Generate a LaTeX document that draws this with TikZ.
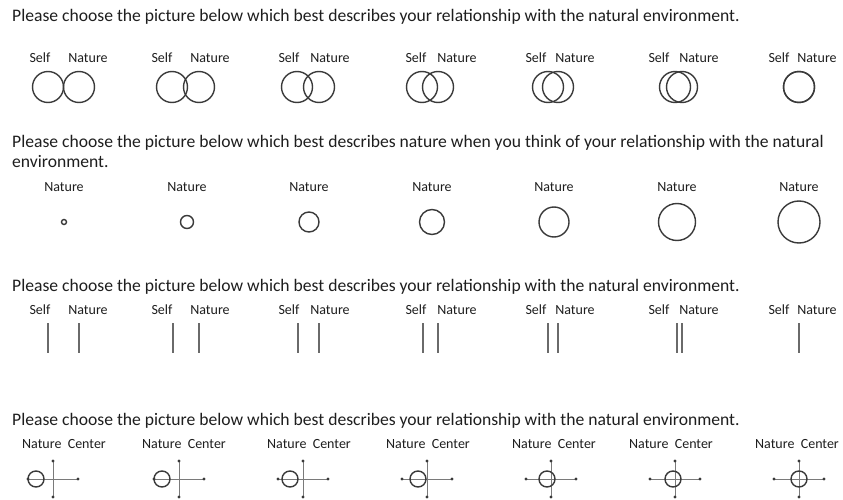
\documentclass[tikz,border=0pt]{standalone}
\usepackage{fontspec}
\setmainfont{Carlito}
\definecolor{ink}{HTML}{1E1E1E}
\definecolor{ringc}{HTML}{3A3A3A}
\definecolor{barc}{HTML}{6A6A6A}
\definecolor{crossc}{HTML}{7A7A7A}
\begin{document}
\begin{tikzpicture}[x=1pt,y=-1pt,
  title/.style={anchor=west, inner sep=0pt, font=\fontsize{17.6}{20}\selectfont, text=ink},
  lab/.style={inner sep=0pt, font=\fontsize{14}{16}\selectfont, text=ink},
  ring/.style={draw=ringc, line width=1.4pt},
  bar/.style={draw=barc, line width=1.5pt},
  arm/.style={draw=crossc, line width=0.9pt},
  dotc/.style={fill=ringc}]
\fill[white] (0,0) rectangle (843,500);
\useasboundingbox (0,0) rectangle (843,500);

% Row 1
\node[title] (t1) at (12,17) {Please choose the picture below which best describes your relationship with the natural environment.};
\foreach \i/\a/\b/\sx/\nx in {1/48/79/40/88, 2/172/199/162/210, 3/297/319/289/330, 4/422/438/416/457, 5/548/558/536/575, 6/675/682/659/699, 7/799/799/779/817}{
  \node[lab] (ras\i) at (\sx,58) {Self};
  \node[lab] (ran\i) at (\nx,58) {Nature};
  \draw[ring] (\a,87) circle[radius=15.5pt];
  \draw[ring] (\b,87) circle[radius=15.5pt];
}

% Row 2
\node[title] (t2a) at (12,143) {Please choose the picture below which best describes nature when you think of your relationship with the natural};
\node[title] (t2b) at (12,162) {environment.};
\foreach \i/\c/\r in {1/64/2.5, 2/187/6.5, 3/309/10, 4/432/12.5, 5/554/15, 6/677/18.5, 7/799/21}{
  \node[lab] (rbn\i) at (\c,187) {Nature};
  \draw[ring] (\c,222) circle[radius=\r pt];
}

% Row 3
\node[title] (t3) at (12,287) {Please choose the picture below which best describes your relationship with the natural environment.};
\foreach \i/\a/\b/\sx/\nx in {1/48/79/40/88, 2/173/199/162/210, 3/298/319/289/330, 4/423/438/416/457, 5/548/558/536/575, 6/677/682/659/699, 7/799/799/779/817}{
  \node[lab] (rcs\i) at (\sx,310) {Self};
  \node[lab] (rcn\i) at (\nx,310) {Nature};
  \draw[bar] (\a,323) -- (\a,353);
  \draw[bar] (\b,323) -- (\b,353);
}

% Row 4
\node[title] (t4) at (12,421) {Please choose the picture below which best describes your relationship with the natural environment.};
\foreach \i/\lx/\c/\o in {1/64/53/-17, 2/184/179/-17, 3/309/303/-13, 4/428/427/-9, 5/554/551/-4, 6/671/675/-2, 7/797/799/0}{
  \node[lab] (rdl\i) at (\lx,444) {Nature\ \ Center};
  \coordinate (top\i) at (\c,461);
  \coordinate (bot\i) at (\c,497);
  \coordinate (lft\i) at (\c-25,479);
  \coordinate (rgt\i) at (\c+25,479);
  \draw[arm] (top\i) -- (bot\i);
  \draw[arm] (lft\i) -- (rgt\i);
  \foreach \p in {top\i,bot\i,lft\i,rgt\i} \fill[dotc] (\p) circle[radius=1.6pt];
  \draw[ring] (\c+\o,479) circle[radius=8pt];
}
\end{tikzpicture}
\end{document}
